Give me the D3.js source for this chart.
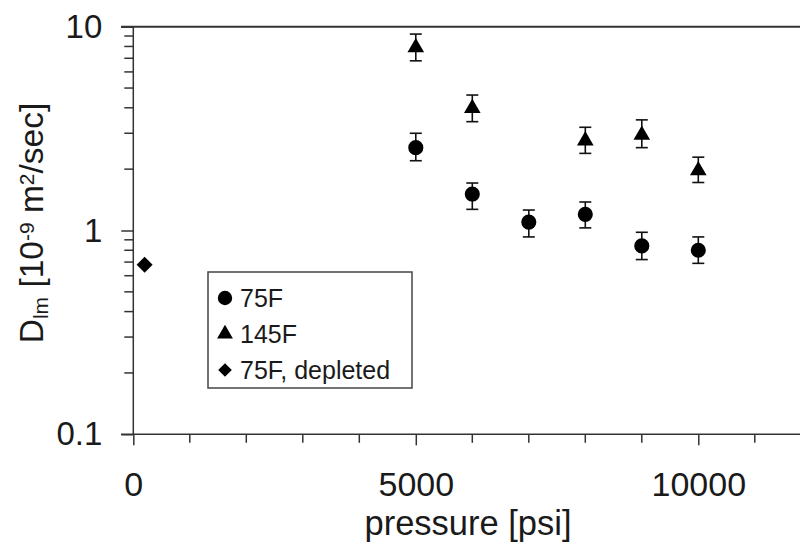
<!DOCTYPE html>
<html>
<head>
<meta charset="utf-8">
<script src="https://cdn.jsdelivr.net/npm/d3@7"></script>
<style>
  body { margin: 0; background: #fff; }
  text { font-family: "Liberation Sans", Arial, sans-serif; fill: #1a1a1a; }
</style>
</head>
<body>
<div id="chart"></div>
<script>
// data
var pressure75 = [5000, 6000, 7000, 8000, 9000, 10000];
var d75 = [2.55, 1.51, 1.10, 1.20, 0.84, 0.80];
var d75Hi = [3.0, 1.71, 1.26, 1.38, 0.98, 0.93];
var d75Lo = [2.2, 1.27, 0.93, 1.03, 0.72, 0.69];

var pressure145 = [5000, 6000, 8000, 9000, 10000];
var d145 = [7.9, 3.98, 2.76, 2.94, 1.97];
var d145Hi = [9.2, 4.62, 3.21, 3.49, 2.29];
var d145Lo = [6.8, 3.42, 2.39, 2.55, 1.72];

var pressureDepl = [200];
var dDepl = [0.68];

var legendLabels = ["75F", "145F", "75F, depleted"];
var xTicks = [0, 5000, 10000];
var yTicks = [0.1, 1, 10];

// dimensions
var width = 800, height = 542;

var svg = d3.select("#chart").append("svg")
    .attr("width", width)
    .attr("height", height);

var x = d3.scaleLinear().domain([0, 12000]).range([133.3, 811.3]);
var y = d3.scaleLog().domain([0.1, 10]).range([434.3, 26.7]);

var axisColor = "#333";

// minor ticks for the log axis
var yMinor = [];
[0.1, 1].forEach(function(dec) {
  for (var k = 2; k <= 9; k++) yMinor.push(dec * k);
});
var xMinor = d3.range(1000, 12000, 1000).filter(function(v) { return v % 5000 !== 0; });

// y axis
var yAxis = d3.axisLeft(y).tickValues(yTicks).tickSize(12).tickPadding(19)
    .tickFormat(function(d) { return d === 0.1 ? "0.1" : d3.format("d")(d); });
var gy = svg.append("g").attr("transform", "translate(133.3,0)").call(yAxis);
gy.select(".domain").remove();
gy.selectAll(".tick line").attr("stroke", axisColor).attr("stroke-width", 1.5);
gy.selectAll(".tick text").style("font-size", "33px").attr("fill", "#1a1a1a");

svg.append("g").selectAll("line").data(yMinor).enter().append("line")
    .attr("x1", 133.3 - 9).attr("x2", 133.3)
    .attr("y1", d => y(d)).attr("y2", d => y(d))
    .attr("stroke", axisColor).attr("stroke-width", 1.5);

// x axis
var xAxis = d3.axisBottom(x).tickValues(xTicks).tickSize(11).tickPadding(27)
    .tickFormat(d3.format("d"));
var gx = svg.append("g").attr("transform", "translate(0,434.3)").call(xAxis);
gx.select(".domain").remove();
gx.selectAll(".tick line").attr("stroke", axisColor).attr("stroke-width", 1.5);
gx.selectAll(".tick text").style("font-size", "34px").attr("fill", "#1a1a1a");

svg.append("g").selectAll("line").data(xMinor).enter().append("line")
    .attr("x1", d => x(d)).attr("x2", d => x(d))
    .attr("y1", 434.3).attr("y2", 434.3 + 8.5)
    .attr("stroke", axisColor).attr("stroke-width", 1.5);

// frame lines (left, bottom, top)
svg.append("line").attr("x1", 133.3).attr("x2", 133.3).attr("y1", y(10)).attr("y2", y(0.1))
    .attr("stroke", axisColor).attr("stroke-width", 1.5);
svg.append("line").attr("x1", 121).attr("x2", width).attr("y1", y(0.1)).attr("y2", y(0.1))
    .attr("stroke", axisColor).attr("stroke-width", 1.5);
svg.append("line").attr("x1", 121).attr("x2", width).attr("y1", y(10)).attr("y2", y(10))
    .attr("stroke", axisColor).attr("stroke-width", 2);

// axis titles
svg.append("text")
    .attr("x", 468).attr("y", 535)
    .attr("text-anchor", "middle")
    .style("font-size", "34.5px")
    .text("pressure [psi]");

var yt = svg.append("text")
    .attr("transform", "translate(43,223) rotate(-90)")
    .attr("text-anchor", "middle")
    .style("font-size", "33.5px");
yt.append("tspan").text("D");
yt.append("tspan").attr("baseline-shift", "-22%").style("font-size", "21px").text("lm");
yt.append("tspan").text("  [10");
yt.append("tspan").attr("baseline-shift", "45%").style("font-size", "21px").text("-9");
yt.append("tspan").text(" m");
yt.append("tspan").attr("baseline-shift", "45%").style("font-size", "21px").text("2");
yt.append("tspan").text("/sec]");

// error bars
function errorBars(px, lo, hi) {
  var g = svg.append("g").attr("stroke", "#111").attr("stroke-width", 1.6);
  g.selectAll(".v").data(px).enter().append("line")
      .attr("x1", d => x(d)).attr("x2", d => x(d))
      .attr("y1", (d, i) => y(lo[i])).attr("y2", (d, i) => y(hi[i]));
  g.selectAll(".t").data(px).enter().append("line")
      .attr("x1", d => x(d) - 6).attr("x2", d => x(d) + 6)
      .attr("y1", (d, i) => y(hi[i])).attr("y2", (d, i) => y(hi[i]));
  g.selectAll(".b").data(px).enter().append("line")
      .attr("x1", d => x(d) - 6).attr("x2", d => x(d) + 6)
      .attr("y1", (d, i) => y(lo[i])).attr("y2", (d, i) => y(lo[i]));
}
errorBars(pressure75, d75Lo, d75Hi);
errorBars(pressure145, d145Lo, d145Hi);

var circleSym = d3.symbol().type(d3.symbolCircle).size(180);
var triSym = d3.symbol().type(d3.symbolTriangle).size(120);
var diaSym = d3.symbol().type(d3.symbolSquare).size(128);

svg.append("g").selectAll("path").data(pressure75).enter().append("path")
    .attr("d", circleSym)
    .attr("transform", (d, i) => "translate(" + x(d) + "," + y(d75[i]) + ")")
    .attr("fill", "#000");

svg.append("g").selectAll("path").data(pressure145).enter().append("path")
    .attr("d", triSym)
    .attr("transform", (d, i) => "translate(" + x(d) + "," + y(d145[i]) + ")")
    .attr("fill", "#000");

svg.append("g").selectAll("path").data(pressureDepl).enter().append("path")
    .attr("d", diaSym)
    .attr("transform", (d, i) => "translate(" + x(d) + "," + y(dDepl[i]) + ") rotate(45)")
    .attr("fill", "#000");

// legend
var legend = svg.append("g").attr("transform", "translate(208,272)");
legend.append("rect")
    .attr("width", 204).attr("height", 116)
    .attr("fill", "#fff").attr("stroke", "#444").attr("stroke-width", 1.5);

var syms = [circleSym, triSym, diaSym];
var items = legend.selectAll(".item").data(legendLabels).enter().append("g")
    .attr("transform", (d, i) => "translate(17," + (26 + i * 36) + ")");
items.append("path")
    .attr("d", (d, i) => syms[i]())
    .attr("transform", (d, i) => i === 2 ? "scale(0.85) rotate(45)" : "scale(0.95)")
    .attr("fill", "#000");
items.append("text")
    .attr("x", 15).attr("dy", "0.36em")
    .style("font-size", "25px")
    .text(d => d);
</script>
</body>
</html>
